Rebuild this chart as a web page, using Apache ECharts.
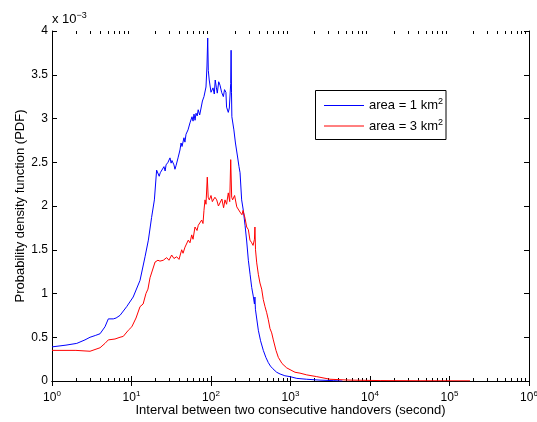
<!DOCTYPE html>
<html>
<head>
<meta charset="utf-8">
<script src="https://cdn.jsdelivr.net/npm/echarts@6/dist/echarts.min.js"></script>
<style>
  html, body { margin: 0; padding: 0; background: #fff; }
  #chart { width: 537px; height: 422px; }
</style>
</head>
<body>
<div id="chart"></div>
<script>
// interval (s) and pdf (x 1e-3)
const blue1km = [
  [1, 0.39], [1.5, 0.41], [2.05, 0.43], [2.6, 0.47], [3.01, 0.50], [3.5, 0.52], [4.02, 0.54],
  [4.64, 0.62], [5.11, 0.71], [5.9, 0.71], [6.4, 0.72], [7.17, 0.75], [8.7, 0.85],
  [10.5, 0.96], [12.8, 1.15], [14.8, 1.42], [16.3, 1.61], [17.9, 1.87], [19.4, 2.07],
  [20.7, 2.41], [21.5, 2.40], [22.3, 2.34], [23.0, 2.38], [24.2, 2.36], [25.6, 2.45],
  [26.5, 2.40], [27.2, 2.47], [28.8, 2.50], [30.5, 2.55], [31.5, 2.49], [32.3, 2.52],
  [34.2, 2.47], [35.2, 2.42], [36.3, 2.46], [38.5, 2.55], [40.7, 2.64], [42.0, 2.72],
  [43.2, 2.68], [45.7, 2.78], [47.0, 2.73], [48.5, 2.82], [51.4, 2.87], [54.4, 2.95],
  [57.7, 3.02], [59.5, 2.97], [61.1, 3.05], [63.0, 2.98], [64.8, 3.06], [67.0, 3.03],
  [69.0, 3.10], [72.0, 3.04], [75.0, 3.12], [78.0, 3.20], [81.6, 3.25], [86.5, 3.36],
  [89.0, 3.60], [90.9, 3.92], [92.5, 3.55], [95.0, 3.44], [97.1, 3.46], [100, 3.30],
  [103, 3.29], [106, 3.35], [110, 3.28], [113, 3.44], [117, 3.35], [120, 3.29],
  [125, 3.42], [130, 3.38], [136, 3.30], [143, 3.25], [148, 3.33], [154, 3.30],
  [157, 3.13], [165, 3.07], [170, 3.12], [174, 3.10], [177, 3.40], [179, 3.78],
  [181, 3.30], [183, 3.02], [194, 2.87], [203, 2.72], [216, 2.56], [225, 2.45],
  [232, 2.38], [243, 2.07], [255, 1.95], [268, 1.78], [281, 1.60], [295, 1.38],
  [310, 1.22], [325, 1.07], [340, 0.97], [352, 0.88], [357, 0.96], [362, 0.82],
  [394, 0.58], [420, 0.46], [455, 0.35], [490, 0.27], [526, 0.21], [560, 0.17],
  [600, 0.14], [670, 0.10], [740, 0.08], [850, 0.06], [986, 0.05], [1200, 0.03],
  [1600, 0.02], [2350, 0.01], [3500, 0.004], [4500, 0.0]
];

const red3km = [
  [1, 0.35], [2, 0.35], [3.01, 0.34], [4.02, 0.38], [4.64, 0.43], [5.11, 0.47],
  [6.2, 0.48], [7.17, 0.50], [7.88, 0.51], [9.12, 0.58], [10.1, 0.62], [11.4, 0.72],
  [12.8, 0.85], [14.0, 0.88], [15.2, 1.00], [16.1, 1.05], [17.1, 1.18], [18.1, 1.19],
  [19.8, 1.36], [21.5, 1.38], [22.8, 1.37], [25.1, 1.38], [27.7, 1.41], [29.6, 1.38],
  [32.0, 1.44], [34.2, 1.40], [37.0, 1.42], [39.6, 1.39], [42.8, 1.50], [44.5, 1.46],
  [47.1, 1.53], [49.9, 1.52], [51.8, 1.61], [54.4, 1.58], [57.2, 1.67], [59.4, 1.62],
  [62.9, 1.76], [66.7, 1.72], [69.2, 1.78], [72.7, 1.76], [76.4, 1.84], [79.3, 1.80],
  [81.6, 1.95], [84.1, 2.07], [86.5, 2.02], [89.8, 2.33], [92.2, 2.10], [95.2, 2.07],
  [100, 2.12], [104, 2.05], [107, 2.03], [112, 2.10], [118, 2.07], [124, 2.00],
  [130, 2.01], [137, 2.08], [144, 1.98], [150, 2.07], [157, 2.02], [165, 2.15],
  [172, 2.05], [177, 2.53], [182, 2.10], [187, 2.07], [198, 2.12], [211, 1.99],
  [221, 2.00], [232, 1.93], [245, 1.90], [253, 1.95], [268, 1.86], [281, 1.76],
  [295, 1.73], [309, 1.61], [325, 1.58], [338, 1.55], [352, 1.62], [357, 1.76],
  [363, 1.50], [376, 1.35], [394, 1.22], [413, 1.12], [434, 1.05], [455, 0.93],
  [478, 0.85], [502, 0.78], [526, 0.70], [552, 0.60], [580, 0.55], [608, 0.47],
  [657, 0.35], [703, 0.27], [782, 0.20], [896, 0.15], [986, 0.13], [1140, 0.10],
  [1316, 0.09], [1600, 0.07], [2136, 0.05], [3140, 0.02], [5600, 0.01],
  [13400, 0.005], [42600, 0.003], [181000, 0.002]
];

const seriesNames = ['area = 1 km', 'area = 3 km'];
const seriesColors = ['#0000ff', '#ff0000'];
const xDecades = [1, 10, 100, 1000, 10000, 100000, 1000000];

// minor ticks 2..9 per decade, like matlab draws them
const minorTicks = [];
xDecades.slice(0, -1).forEach(d => {
  for (let k = 2; k <= 9; k++) minorTicks.push([d * k, 0]);
});

const font = 'Liberation Sans, Arial, Helvetica, sans-serif';
const tickRich = {
  b: { fontSize: 12, lineHeight: 16, fontFamily: font, color: '#000' },
  sup: { fontSize: 8, lineHeight: 8, fontFamily: font, color: '#000', verticalAlign: 'top' }
};
const textRich = {
  b: { fontSize: 13, lineHeight: 16, fontFamily: font, color: '#000' },
  sup: { fontSize: 9, lineHeight: 8, fontFamily: font, color: '#000', verticalAlign: 'top' }
};

const chart = echarts.init(document.getElementById('chart'));

const tickStyle = { show: true, inside: true, length: 5, lineStyle: { color: '#000', width: 1 } };
const lineStyle = { show: true, lineStyle: { color: '#000', width: 1 } };

chart.setOption({
  animation: false,
  backgroundColor: '#fff',
  textStyle: { fontFamily: font },
  grid: { left: 52, right: 8, top: 31, bottom: 41, outerBoundsMode: 'none', containLabel: false },
  legend: {
    orient: 'vertical',
    left: 315.5,
    top: 90.5,
    data: seriesNames,
    itemWidth: 40,
    itemHeight: 16,
    itemGap: 6,
    padding: [7, 3, 7, 8],
    itemStyle: { opacity: 0 },
    lineStyle: { width: 1 },
    backgroundColor: '#fff',
    borderColor: '#000',
    borderWidth: 1,
    borderRadius: 0,
    formatter: name => '{b|' + name + '}{sup|2}',
    textStyle: { rich: textRich }
  },
  graphic: [{
    type: 'text',
    left: 52,
    top: 11,
    style: {
      text: '{b|x 10}{sup|\u22123}',
      rich: textRich
    }
  }],
  xAxis: [{
    type: 'log',
    logBase: 10,
    min: 1,
    max: 1000000,
    interval: 1,
    position: 'bottom',
    axisLine: lineStyle,
    axisTick: tickStyle,
    splitLine: { show: false },
    axisLabel: {
      margin: 9,
      formatter: v => '{b|10}{sup|' + Math.round(Math.log10(v)) + '}',
      rich: tickRich
    },
    name: 'Interval between two consecutive handovers (second)',
    nameLocation: 'middle',
    nameGap: 23,
    nameMoveOverlap: false,
    nameTextStyle: { fontSize: 13, color: '#000', fontFamily: font }
  }, {
    type: 'log',
    logBase: 10,
    min: 1,
    max: 1000000,
    interval: 1,
    position: 'top',
    axisLine: lineStyle,
    axisTick: tickStyle,
    axisLabel: { show: false },
    splitLine: { show: false }
  }],
  yAxis: [{
    type: 'value',
    min: 0,
    max: 4,
    interval: 0.5,
    position: 'left',
    axisLine: lineStyle,
    axisTick: tickStyle,
    splitLine: { show: false },
    axisLabel: {
      margin: 4,
      fontSize: 12,
      color: '#000',
      fontFamily: font,
      formatter: v => String(v)
    },
    name: 'Probability density function (PDF)',
    nameLocation: 'middle',
    nameGap: 25,
    nameMoveOverlap: false,
    nameTextStyle: { fontSize: 13, color: '#000', fontFamily: font }
  }, {
    type: 'value',
    min: 0,
    max: 4,
    interval: 0.5,
    position: 'right',
    axisLine: lineStyle,
    axisTick: tickStyle,
    axisLabel: { show: false },
    splitLine: { show: false }
  }],
  series: [
    {
      name: seriesNames[0],
      type: 'line',
      data: blue1km,
      showSymbol: false,
      symbol: 'none',
      itemStyle: { color: seriesColors[0] },
      lineStyle: { color: seriesColors[0], width: 1 }
    },
    {
      name: seriesNames[1],
      type: 'line',
      data: red3km,
      showSymbol: false,
      symbol: 'none',
      itemStyle: { color: seriesColors[1] },
      lineStyle: { color: seriesColors[1], width: 1 }
    },
    {
      type: 'custom',
      silent: true,
      clip: false,
      data: minorTicks,
      renderItem: (params, api) => {
        const x = Math.round(api.coord([api.value(0), 0])[0]) + 0.5;
        const top = params.coordSys.y;
        const bottom = params.coordSys.y + params.coordSys.height;
        const st = { stroke: '#000', lineWidth: 1 };
        return {
          type: 'group',
          children: [
            { type: 'line', shape: { x1: x, y1: bottom, x2: x, y2: bottom - 3 }, style: st },
            { type: 'line', shape: { x1: x, y1: top, x2: x, y2: top + 3 }, style: st }
          ]
        };
      }
    }
  ]
});
</script>
</body>
</html>
